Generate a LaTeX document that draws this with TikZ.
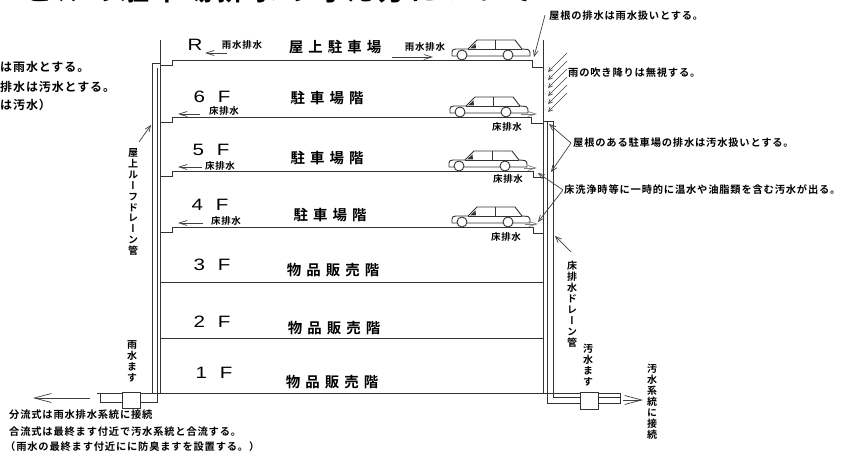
\documentclass[tikz,border=0pt]{standalone}
\usepackage{fontspec}
\usetikzlibrary{arrows.meta}
\newfontfamily\latsf[FakeStretch=1.25]{Liberation Sans}
\newfontfamily\jpsm[LetterSpace=8]{Noto Sans CJK JP Bold}
\newfontfamily\jpbig[LetterSpace=35]{Noto Sans CJK JP Bold}
\newfontfamily\jptitle[LetterSpace=15]{Noto Sans CJK JP Bold}
\newfontfamily\jpvert[RawFeature=+vert]{Noto Sans CJK JP Bold}

\tikzset{
  wall/.style={line width=0.9bp, draw=black!80},
  fine/.style={line width=0.7bp, draw=black!75},
  flowtip/.style={-{Straight Barb[length=8bp,width=5bp]}},
  pointer/.style={-{Straight Barb[length=6bp,width=5bp]}},
  raintip/.style={-{Straight Barb[length=4bp,width=4bp]}},
  longtip/.style={-{Straight Barb[length=17bp,width=9bp]}},
  floorno/.style={font=\latsf\fontsize{16.5}{16}\selectfont, inner sep=0},
  usage/.style={font=\jpbig\fontsize{14.5}{14}\selectfont, inner sep=0},
  tag/.style={font=\jpsm\fontsize{9.5}{10}\selectfont, inner sep=0},
  note/.style={font=\jpsm\fontsize{10.3}{12}\selectfont, inner sep=0, anchor=west},
  sidenote/.style={font=\jpsm\fontsize{12}{13}\selectfont, inner sep=0, anchor=west},
  vlabel/.style={font=\jpvert\fontsize{10}{11}\selectfont, inner sep=0, align=center},
  titletext/.style={font=\jptitle\fontsize{28}{28}\selectfont, inner sep=0, anchor=base west},
  car/.pic={
    \draw[wall, line join=round, fill=white]
      (2,-4) -- (2,-8) .. controls (2,-10) and (3,-11) .. (6,-11)
      -- (18,-11) -- (27,-20) -- (65,-20) -- (72,-11) -- (78,-10.5)
      .. controls (80,-10) and (80,-8) .. (80,-4) -- cycle;
    \draw[wall] (18,-11) -- (72,-11) (45,-20) -- (45,-11);
    \fill[black!80] (20,-11.5) -- (26,-11.5) -- (25.5,-16.5) -- cycle;
    \draw[wall, fill=white] (12,-5) circle[radius=5bp] (58,-5) circle[radius=5bp];
  }
}

\begin{document}
\begin{tikzpicture}[x=1bp,y=-1bp]
\useasboundingbox (0,0) rectangle (844,454);
\fill[white] (0,0) rectangle (844,454);

% heading, running off the top edge
\node[titletext] (title) at (25,1) {ビルの駐車場排水の考え方について};

% notes on the left edge
\node[sidenote] (nL1) at (0,67) {は雨水とする。};
\node[sidenote] (nL2) at (0,87) {排水は汚水とする。};
\node[sidenote] (nL3) at (0,105) {は汚水）};

% building walls
\draw[wall] (160,40) -- (160,393);
\draw[wall] (543,40) -- (543,393);

% floor slabs with gutters at both ends
\draw[wall] (160,65) -- (172,65) -- (172,60) -- (532,60) -- (532,67) -- (543,67);
\draw[wall] (160,122) -- (172,122) -- (172,117) -- (531,117) -- (531,123) -- (543,123);
\draw[wall] (160,176) -- (172,176) -- (172,171) -- (533,171) -- (533,177) -- (543,177);
\draw[wall] (160,232) -- (172,232) -- (172,227) -- (533,227) -- (533,233) -- (543,233);
\draw[wall] (160,282) -- (543,282);
\draw[wall] (160,338) -- (543,338);
\draw[wall] (97,393) -- (620,393);

% roof drain pipe (left) and rainwater pit
\draw[wall] (152,63) -- (160,63);
\draw[wall] (152,63) -- (152,393);
\draw[wall] (157,68) -- (157,402) -- (140,402);
\draw[wall] (122,402) -- (100,402) -- (100,393);
\draw[wall, fill=white] (122,392) rectangle (140,408);

% floor drain pipe (right) and sewage pit
\draw[wall] (543,121) -- (553,121);
\draw[wall] (547,121) -- (547,403) -- (580,403);
\draw[wall] (598,403) -- (620,403) -- (620,393);
\draw[wall] (553,121) -- (553,397) -- (580,397);
\draw[wall] (598,397) -- (620,397);
\draw[wall, fill=white] (580,392) rectangle (598,409);

% outflow arrows
\coordinate (outL1) at (90,398);  \coordinate (outL2) at (33,398);
\coordinate (outR1) at (623,400); \coordinate (outR2) at (643,400);
\draw[fine, longtip] (outL1) -- (outL2);
\draw[fine, longtip] (outR1) -- (outR2);

% floor numbers
\node[floorno] (fR) at (195,45) {R};
\node[floorno] (f6) at (212,97) {6\hskip 13bp F};
\node[floorno] (f5) at (211,150) {5\hskip 13bp F};
\node[floorno] (f4) at (210,205) {4\hskip 13bp F};
\node[floorno] (f3) at (212,265) {3\hskip 13bp F};
\node[floorno] (f2) at (212,322) {2\hskip 13bp F};
\node[floorno] (f1) at (214,373) {1\hskip 13bp F};

% floor uses
\node[usage] (uR) at (335,47) {屋上駐車場};
\node[usage] (u6) at (327,98) {駐車場階};
\node[usage] (u5) at (327,158) {駐車場階};
\node[usage] (u4) at (330,215) {駐車場階};
\node[usage] (u3) at (333,270) {物品販売階};
\node[usage] (u2) at (334,328) {物品販売階};
\node[usage] (u1) at (332,382) {物品販売階};

% cars
\pic at (450,60) {car};
\pic at (448,117) {car};
\pic at (447,171) {car};
\pic at (450,227) {car};

% drainage tags and flow arrows
\node[tag] (tRl) at (242,45) {雨水排水};
\node[tag] (tRr) at (425,47) {雨水排水};
\node[tag] (t6l) at (224,111) {床排水};
\node[tag] (t5l) at (220,166) {床排水};
\node[tag] (t4l) at (226,221) {床排水};
\node[tag] (t6r) at (507,127) {床排水};
\node[tag] (t5r) at (508,179) {床排水};
\node[tag] (t4r) at (506,237) {床排水};

\coordinate (fRa) at (227,53); \coordinate (fRb) at (205,53);
\coordinate (f6a) at (200,114); \coordinate (f6b) at (178,114);
\coordinate (f5a) at (202,167); \coordinate (f5b) at (178,167);
\coordinate (f4a) at (203,223); \coordinate (f4b) at (178,223);
\coordinate (fRc) at (392,57); \coordinate (fRd) at (433,57);
\draw[fine, flowtip] (fRa) -- (fRb);
\draw[fine, flowtip] (f6a) -- (f6b);
\draw[fine, flowtip] (f5a) -- (f5b);
\draw[fine, flowtip] (f4a) -- (f4b);
\draw[fine, flowtip] (fRc) -- (fRd);

\coordinate (g6a) at (521,114); \coordinate (g6b) at (537,114);
\coordinate (g5a) at (524,168); \coordinate (g5b) at (537,168);
\coordinate (g4a) at (525,224); \coordinate (g4b) at (538,224);
\draw[fine, black!50, flowtip] (g6a) -- (g6b);
\draw[fine, black!50, flowtip] (g5a) -- (g5b);
\draw[fine, black!50, flowtip] (g4a) -- (g4b);

% driving rain against the facade
\foreach \y [count=\i] in {53,61,69,77,85,93} {
  \coordinate (rs\i) at (567,\y);
  \coordinate (re\i) at (548,\y+19);
  \draw[fine, raintip] (rs\i) -- (re\i);
}

% annotations on the right
\node[note] (nRoof) at (549,16) {屋根の排水は雨水扱いとする。};
\node[note] (nRain) at (568,73) {雨の吹き降りは無視する。};
\node[note] (nA) at (573,143) {屋根のある駐車場の排水は汚水扱いとする。};
\node[note] (nB) at (564,190) {床洗浄時等に一時的に温水や油脂類を含む汚水が出る。};

\coordinate (roofTail) at (545,15); \coordinate (roofTip) at (534,57);
\draw[fine, pointer] (roofTail) -- (roofTip);
\coordinate (aFork) at (571,143);
\coordinate (aTip1) at (549,124); \coordinate (aTip2) at (551,172);
\draw[fine, pointer] (aFork) -- (aTip1);
\draw[fine, pointer] (aFork) -- (aTip2);
\coordinate (bFork) at (563,190);
\coordinate (bTip1) at (538,173); \coordinate (bTip2) at (538,222);
\draw[fine, pointer] (bFork) -- (bTip1);
\draw[fine, pointer] (bFork) -- (bTip2);

% vertical labels
\node[vlabel] (vRoofDrain) at (133,202) {屋\\上\\ル\\ー\\フ\\ド\\レ\\ー\\ン\\管};
\node[vlabel] (vRainPit) at (132,361) {雨\\水\\ま\\す};
\node[vlabel] (vFloorDrain) at (572,304) {床\\排\\水\\ド\\レ\\ー\\ン\\管};
\node[vlabel] (vSewPit) at (588,365) {汚\\水\\ま\\す};
\node[vlabel] (vSewer) at (652,402) {汚\\水\\系\\統\\に\\接\\続};

\coordinate (pL1) at (139,142); \coordinate (pL2) at (151,125);
\coordinate (pR1) at (571,252); \coordinate (pR2) at (555,236);
\draw[fine, pointer] (pL1) -- (pL2);
\draw[fine, pointer] (pR1) -- (pR2);

% notes under the ground line
\node[note] (n1) at (9,415) {分流式は雨水排水系統に接続};
\node[note] (n2) at (9,432) {合流式は最終ます付近で汚水系統と合流する。};
\node[note] (n3) at (5,447) {（雨水の最終ます付近にに防臭ますを設置する。）};
\end{tikzpicture}
\end{document}
